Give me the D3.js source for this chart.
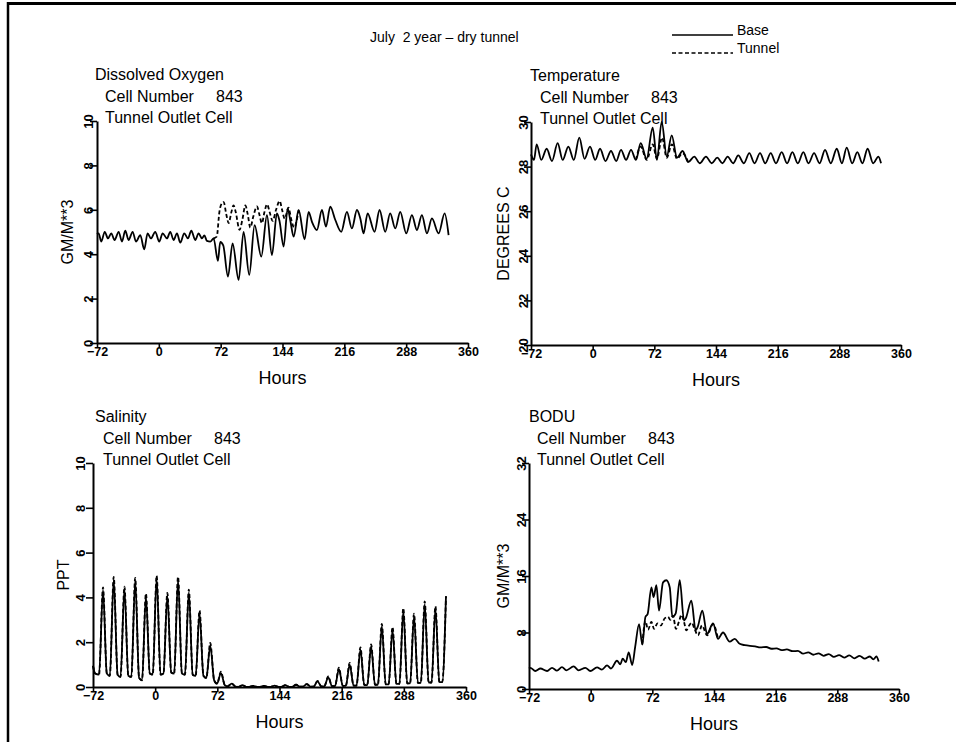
<!DOCTYPE html>
<html><head><meta charset="utf-8">
<script src="https://cdn.jsdelivr.net/npm/d3@7"></script>
<style>
body{margin:0;background:#fff}
svg{display:block}
text{font-family:"Liberation Sans",Arial,sans-serif;fill:#000;white-space:pre}
</style>
</head><body>
<svg id="chart" width="956" height="744"></svg>
<script>
// ---------------- DATA ----------------
const chartTitle = "July  2 year \u2013 dry tunnel";
const seriesNames = ["Base", "Tunnel"];
const cellLabel = "Cell Number";
const cellNumber = "843";
const cellName = "Tunnel Outlet Cell";
const xTicks = [-72, 0, 72, 144, 216, 288, 360];

// Dissolved Oxygen (GM/M**3): [hour, value]
const doBase = [[-72,4.9],[-70.1,4.94],[-67,4.57],[-63,5.01],[-59.2,4.71],[-55.4,4.94],[-51.5,4.64],[-46.8,5.01],[-42.9,4.57],[-39.1,5.06],[-35.2,4.64],[-30.5,5.01],[-26.6,4.57],[-21.6,4.86],[-17,4.22],[-13.1,4.94],[-9.2,4.71],[-4.2,5.01],[0.5,4.57],[4.4,4.94],[9.5,4.71],[13.3,5.01],[17.2,4.64],[21.1,4.94],[25,4.52],[29.6,4.94],[33.9,4.71],[37.8,5.06],[42.4,4.64],[46.3,4.94],[50.2,4.71],[53,4.85],[56,4.6],[59.9,4.57],[63.8,4.71],[68.8,3.7],[71.5,4.55],[75,4.4],[80.5,2.99],[85.9,4.49],[92.9,2.84],[98.7,5.01],[105.3,3.07],[111.5,5.31],[119.3,3.89],[125.9,5.76],[131.7,3.96],[137.5,5.84],[140.5,5.5],[145.3,4.34],[150,6.06],[153,5.54],[157,4.79],[162.8,5.99],[169.7,4.67],[174.4,5.91],[178.3,5.46],[184.1,5.09],[189.9,5.99],[194.6,5.24],[199.6,6.14],[205.5,5.54],[212.4,5.01],[219,5.91],[224.8,5.16],[230.7,5.99],[234.6,5.61],[238.4,4.94],[243.1,5.84],[251.2,5.01],[257,5.99],[263.6,5.01],[269.4,5.84],[275.3,5.16],[281.1,5.91],[288.1,4.94],[294.7,5.76],[300.5,5.09],[306.3,5.76],[312.2,4.94],[318,5.61],[325.8,4.94],[332.8,5.84],[337.4,4.86]];
const doTunnel = [[63.8,4.71],[67.5,4.8],[70.5,5.9],[73.5,6.3],[75.5,6.35],[78.5,5.8],[81.3,5.4],[84.5,5.9],[87,6.2],[89.5,5.9],[94,5.1],[97.5,5.6],[100.7,6.2],[103.5,5.8],[106.5,5.2],[110,5.7],[114.3,6.15],[117,5.8],[120,5.4],[123,5.9],[126,6.25],[129,5.9],[132.5,5.5],[136.5,6.0],[140.7,6.4],[143.5,6.0],[146.5,5.6],[151,6.1],[154,5.6],[157.5,5.2],[162.8,5.99]];

// Temperature (DEGREES C)
const tempBase = [[-72,28.55],[-68.5,28.3],[-65.4,29.0],[-60,28.3],[-53.7,28.8],[-47.5,28.25],[-40.9,29.05],[-35,28.3],[-28.4,28.9],[-22,28.3],[-15.6,29.3],[-9.5,28.35],[-3.1,28.9],[3,28.3],[8.6,28.8],[15,28.25],[21.4,28.7],[27.5,28.25],[33.1,28.75],[39,28.3],[44.8,28.75],[50.5,28.3],[56.1,29.05],[63,28.35],[70.1,29.75],[75,28.3],[80.6,30.0],[86.5,28.45],[92.3,29.4],[98.5,28.4],[105,28.7],[111.5,28.2],[118.7,28.45],[125,28.15],[132.3,28.45],[139,28.15],[145.5,28.4],[151.5,28.15],[157.6,28.45],[164,28.15],[170,28.5],[176.5,28.15],[182.9,28.6],[189,28.15],[195.4,28.6],[201.5,28.15],[207.9,28.6],[214,28.15],[220.7,28.65],[227,28.15],[233.2,28.65],[239.5,28.15],[246,28.65],[252,28.15],[258.5,28.6],[265,28.15],[271.3,28.75],[278,28.15],[285,28.8],[291,28.15],[296.6,28.85],[303,28.15],[309,28.65],[315,28.15],[321,28.8],[327.5,28.15],[333.6,28.45],[336.7,28.15]];
const tempTunnel = [[50.5,28.3],[56.1,28.9],[63,28.3],[70.1,29.0],[75,28.35],[81,29.3],[86.5,28.4],[92.5,29.0],[98.5,28.35],[105,28.6],[111.5,28.2]];

// Salinity (PPT)
const salHours = [-72,-69.5,-65,-60.4,-56,-52.5,-48,-43.5,-40.1,-35.6,-31.1,-27.6,-23.1,-18.6,-15.2,-10.7,-6.2,-2.8,1.7,6.2,9.6,14.1,18.6,22.0,26.5,31,34.5,39.0,43.5,46.9,51.4,55.9,59.3,63.8,68.3,71.7,76.2,80.7,84.1,88.6,93.1,96.6,101.1,105.6,109,113.5,118,121.4,125.9,130.4,133.8,138.3,142.8,146.2,150.7,155.2,158.7,163.2,167.7,171.1,175.6,180.1,183.5,188.0,192.5,195.9,200.4,204.9,208.3,212.8,217.3,220.8,225.3,229.8,233.2,237.7,242.2,245.6,250.1,254.6,258,262.5,267,270.4,274.9,279.4,282.9,287.4,291.9,295.3,299.8,304.3,307.7,312.2,316.7,320.1,324.6,329.1,332.5,336.8];
const salBase = [0.95,0.6,0.55,4.33,0.6,0.5,4.8,0.55,0.45,4.37,0.5,0.45,4.75,0.4,0.3,4.05,0.6,0.55,4.87,0.55,0.6,4.08,0.65,0.6,4.8,0.6,0.55,4.23,0.55,0.5,3.3,0.5,0.4,1.85,0.3,0.15,0.62,0.08,0.03,0.15,0.02,0.01,0.08,0.01,0.01,0.05,0.01,0.01,0.05,0.01,0.01,0.06,0.01,0.01,0.08,0.01,0.01,0.1,0.02,0.02,0.13,0.02,0.02,0.25,0.03,0.03,0.43,0.04,0.04,0.8,0.05,0.05,1.0,0.06,0.06,1.67,0.08,0.08,1.8,0.1,0.1,2.7,0.12,0.12,2.55,0.14,0.14,3.4,0.16,0.16,3.15,0.18,0.18,3.7,0.2,0.2,3.5,0.22,0.22,4.05];
const salTunnel = [0.95,0.6,0.55,4.45,0.6,0.5,4.92,0.55,0.45,4.48,0.5,0.45,4.87,0.4,0.3,4.17,0.6,0.55,4.97,0.55,0.6,4.2,0.65,0.6,4.92,0.6,0.55,4.35,0.55,0.5,3.42,0.5,0.4,1.97,0.3,0.15,0.68,0.08,0.03,0.15,0.02,0.01,0.08,0.01,0.01,0.05,0.01,0.01,0.05,0.01,0.01,0.06,0.01,0.01,0.08,0.01,0.01,0.1,0.02,0.02,0.13,0.02,0.02,0.27,0.03,0.03,0.47,0.04,0.04,0.86,0.05,0.05,1.08,0.06,0.06,1.77,0.08,0.08,1.9,0.1,0.1,2.82,0.12,0.12,2.68,0.14,0.14,3.52,0.16,0.16,3.27,0.18,0.18,3.82,0.2,0.2,3.6,0.22,0.22,4.05];

// BODU (GM/M**3)
const bodBase = [[-72,2.9],[-70.4,3.0],[-64.6,2.55],[-58.7,2.9],[-50.9,2.55],[-45.1,3.0],[-39.3,2.6],[-33.5,3.1],[-28.4,2.65],[-19.9,3.2],[-14,2.65],[-6.2,3.0],[-0.4,2.55],[7.4,3.05],[13.2,2.75],[19.1,3.35],[23.7,2.9],[30.7,4.0],[34.6,3.5],[37.4,4.3],[41,3.8],[44.4,5.2],[48.5,3.4],[52,6.0],[56.5,9.2],[60.3,6.3],[63.9,10.2],[66.5,10.6],[70.9,14.4],[73.5,13.0],[76.7,14.7],[79.8,11.1],[84.5,15.1],[88.4,15.4],[92.3,14.4],[95.4,10.2],[99.3,10.7],[104,15.4],[109,9.7],[111,10],[117.6,12.5],[122.6,8.3],[125,8.8],[130.4,11.1],[135.9,7.8],[142.9,9.3],[148.7,7.1],[154.5,8.0],[162.3,6.7],[168.2,7.1],[174,6.4],[180,6.2],[186,6.1],[192,6.05],[198,5.9],[205,5.95],[211,5.7],[217,5.75],[223,5.5],[229,5.6],[236,5.35],[242,5.4],[248,5.0],[254,5.2],[260,4.85],[266,5.05],[272,4.7],[278,4.95],[284,4.55],[290,4.8],[296,4.45],[302,4.75],[308,4.35],[314,4.7],[320,4.3],[326,4.6],[330,4.2],[333.6,4.6],[336.3,3.9]];
const bodTunnel = [[60.3,6.3],[63.9,9.6],[67,8.4],[70.9,9.5],[74,8.5],[78,9.3],[82,9.0],[86.4,10.0],[90.3,10.2],[93,9.8],[96.1,10.4],[99.6,8.5],[103,9.5],[106,10.5],[109,9.5],[111.7,8.3],[115,9.0],[118,9.4],[121,8.6],[125.3,7.6],[130,9.0],[135.9,7.6],[142.9,9.2],[148.7,7.1]];

// ---------------- LAYOUT ----------------
const panels = [
  {name:"Dissolved Oxygen", yLabel:"GM/M**3", yDomain:[0,10], yTicks:[0,2,4,6,8,10],
   base:doBase, tunnel:doTunnel, x0:97, y0:121, w:371, h:222, tx:95, cx:105, tickOff:9, labOff:30},
  {name:"Temperature", yLabel:"DEGREES C", yDomain:[20,30], yTicks:[20,22,24,26,28,30],
   base:tempBase, tunnel:tempTunnel, x0:531, y0:122, w:370, h:223, tx:530, cx:540, tickOff:8, labOff:28},
  {name:"Salinity", yLabel:"PPT", yDomain:[0,10], yTicks:[0,2,4,6,8,10],
   base:salHours.map((h,i)=>[h,salBase[i]]), tunnel:salHours.map((h,i)=>[h,salTunnel[i]]),
   x0:93, y0:463, w:373, h:224, tx:95, cx:103, tickOff:13, labOff:30},
  {name:"BODU", yLabel:"GM/M**3", yDomain:[0,32], yTicks:[0,8,16,24,32],
   base:bodBase, tunnel:bodTunnel, x0:529, y0:463, w:370, h:226, tx:529, cx:537, tickOff:8, labOff:26}
];

const svg = d3.select("#chart");

// frame
svg.append("line").attr("x1",8).attr("x2",8).attr("y1",2).attr("y2",742).attr("stroke","#000").attr("stroke-width",2.5);
svg.append("line").attr("x1",8).attr("x2",956).attr("y1",3.5).attr("y2",3.5).attr("stroke","#000").attr("stroke-width",3);

// title + legend
svg.append("text").attr("x",370).attr("y",42).attr("font-size",14).text(chartTitle);
const legend = svg.append("g");
legend.append("line").attr("x1",672).attr("x2",733).attr("y1",35).attr("y2",35).attr("stroke","#000").attr("stroke-width",1.6);
legend.append("text").attr("x",737).attr("y",35).attr("font-size",14).text(seriesNames[0]);
legend.append("line").attr("x1",672).attr("x2",733).attr("y1",53).attr("y2",53).attr("stroke","#000").attr("stroke-width",1.6).attr("stroke-dasharray","4,2.5");
legend.append("text").attr("x",737).attr("y",53).attr("font-size",14).text(seriesNames[1]);

panels.forEach(p => {
  const g = svg.append("g");
  const x = d3.scaleLinear().domain([-72,360]).range([p.x0, p.x0 + p.w]);
  const y = d3.scaleLinear().domain(p.yDomain).range([p.y0 + p.h, p.y0]);

  // text block
  g.append("text").attr("x",p.tx).attr("y",p.y0-41).attr("font-size",16).text(p.name);
  g.append("text").attr("x",p.cx).attr("y",p.y0-19.5).attr("font-size",16).text(cellLabel);
  g.append("text").attr("x",p.cx+111).attr("y",p.y0-19.5).attr("font-size",16).text(cellNumber);
  g.append("text").attr("x",p.cx).attr("y",p.y0+2).attr("font-size",16).text(cellName);

  // y axis
  const ya = g.append("g").attr("transform",`translate(${p.x0},0)`)
    .call(d3.axisLeft(y).tickValues(p.yTicks).tickSize(7).tickSizeOuter(0));
  ya.select(".domain").attr("stroke-width",2);
  ya.selectAll(".tick line").attr("stroke-width",1.6);
  ya.selectAll(".tick text").attr("x",null).attr("dy",null)
    .attr("transform",`translate(${-p.tickOff},0) rotate(-90)`)
    .attr("text-anchor","middle").attr("dominant-baseline","central")
    .attr("font-size",13).attr("font-family","Liberation Sans, Arial, sans-serif").attr("font-weight","bold");

  // x axis
  const xa = g.append("g").attr("transform",`translate(0,${p.y0+p.h})`)
    .call(d3.axisBottom(x).tickValues(xTicks).tickSize(5).tickSizeOuter(0));
  xa.select(".domain").attr("stroke-width",2);
  xa.selectAll(".tick line").attr("stroke-width",1.6);
  xa.selectAll(".tick text").attr("y",4).attr("font-size",12.5)
    .attr("font-family","Liberation Sans, Arial, sans-serif").attr("font-weight","bold");

  // axis titles
  g.append("text").attr("x",p.x0 + p.w/2).attr("y",p.y0+p.h+41).attr("text-anchor","middle")
    .attr("font-size",18).text("Hours");
  g.append("text").attr("transform",`translate(${p.x0-p.labOff},${p.y0+p.h/2}) rotate(-90)`)
    .attr("text-anchor","middle").attr("dominant-baseline","central").attr("font-size",16).text(p.yLabel);

  const line = d3.line().x(d=>x(d[0])).y(d=>y(d[1])).curve(d3.curveMonotoneX);
  g.append("path").datum(p.tunnel).attr("d",line).attr("fill","none")
    .attr("stroke","#000").attr("stroke-width",1.8).attr("stroke-dasharray","4,2.5");
  g.append("path").datum(p.base).attr("d",line).attr("fill","none")
    .attr("stroke","#000").attr("stroke-width",1.8);
});
</script>
</body></html>
